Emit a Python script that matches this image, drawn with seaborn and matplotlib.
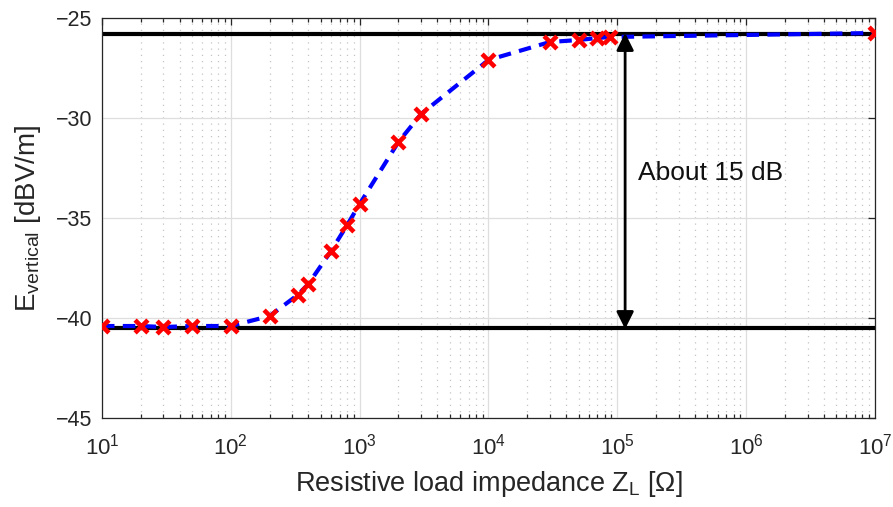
import numpy as np
import pandas as pd
import matplotlib
matplotlib.use("Agg")
import matplotlib.pyplot as plt
import seaborn as sns
from matplotlib.ticker import LogLocator

# Data
impedance = [10, 20, 30, 50, 100, 200, 330, 400, 600, 800, 1000, 2000, 3000,
             10000, 30000, 50000, 70000, 88000, 1e7]
e_vertical = [-40.4, -40.4, -40.45, -40.4, -40.4, -39.9, -38.85, -38.3, -36.65,
              -35.35, -34.3, -31.2, -29.8, -27.1, -26.2, -26.1, -26.0, -25.95, -25.75]
upper_level = -25.8
lower_level = -40.5
arrow_x = 1.15e5
annotation = "About 15 dB"
x_ticks = [1e1, 1e2, 1e3, 1e4, 1e5, 1e6, 1e7]
y_ticks = [-45, -40, -35, -30, -25]

df = pd.DataFrame({"Z": impedance, "E": e_vertical})

sns.set_theme(style="white")
plt.rcParams['font.family'] = ['Liberation Sans', 'DejaVu Sans']
plt.rcParams['mathtext.fontset'] = 'custom'
plt.rcParams['mathtext.rm'] = 'Liberation Sans'
plt.rcParams['mathtext.it'] = 'Liberation Sans:italic'

txt = '#262626'
fig = plt.figure(figsize=(8.93, 5.07), dpi=100)
ax = fig.add_axes([0.1142, 0.1755, 0.8656, 0.789])
ax.set_xscale('log')
ax.set_xlim(10, 1e7)
ax.set_ylim(-45, -25)

ax.grid(True, which='major', color='#dedede', linewidth=0.9, linestyle='-')
ax.grid(True, which='minor', axis='x', color='#c4c4c4', linewidth=0.9, linestyle=(0, (1, 4)))
ax.xaxis.set_minor_locator(LogLocator(base=10, subs=np.arange(2, 10)))
ax.set_axisbelow(True)

ax.axhline(upper_level, color='black', linewidth=3, zorder=2)
ax.axhline(lower_level, color='black', linewidth=3, zorder=2)

sns.lineplot(data=df, x="Z", y="E", ax=ax, color='#0000ff', linewidth=3,
             linestyle=(0, (3, 2)), zorder=3)
sns.scatterplot(data=df, x="Z", y="E", ax=ax, marker='x', color='red',
                s=85, linewidth=3.3, zorder=4)

ax.annotate('', xy=(arrow_x, upper_level + 0.05), xytext=(arrow_x, lower_level - 0.05),
            arrowprops=dict(arrowstyle='<|-|>', color='black', lw=2,
                            mutation_scale=26, shrinkA=0, shrinkB=0), zorder=5)
ax.text(1.45e5, -32.75, annotation, fontsize=19, color='#111111', va='center', ha='left')

ax.set_xticks(x_ticks)
ax.set_yticks(y_ticks)
ax.set_xticklabels([f'$10^{{{int(np.log10(t))}}}$' for t in x_ticks])
ax.set_yticklabels([str(t).replace('-', '\u2212') for t in y_ticks])
ax.tick_params(axis='both', which='major', direction='in', length=5, width=0.9,
               labelsize=15.5, labelcolor=txt, color=txt, top=True, right=True)
ax.tick_params(axis='x', which='major', pad=11, labelsize=16)
ax.tick_params(axis='y', which='major', pad=7)
ax.tick_params(axis='x', which='minor', direction='in', length=3, width=0.9,
               color=txt, top=True, bottom=True)
for s in ax.spines.values():
    s.set_color(txt)
    s.set_linewidth(0.9)
    s.set_visible(True)

ax.set_xlabel(r'Resistive load impedance Z$_{\rm L}$ [$\Omega$]', fontsize=19.5, color=txt, labelpad=7)
ax.set_ylabel(r'E$_{\rm vertical}$ [dBV/m]', fontsize=20, color=txt, labelpad=9)

fig.savefig('out.png', dpi=100)
